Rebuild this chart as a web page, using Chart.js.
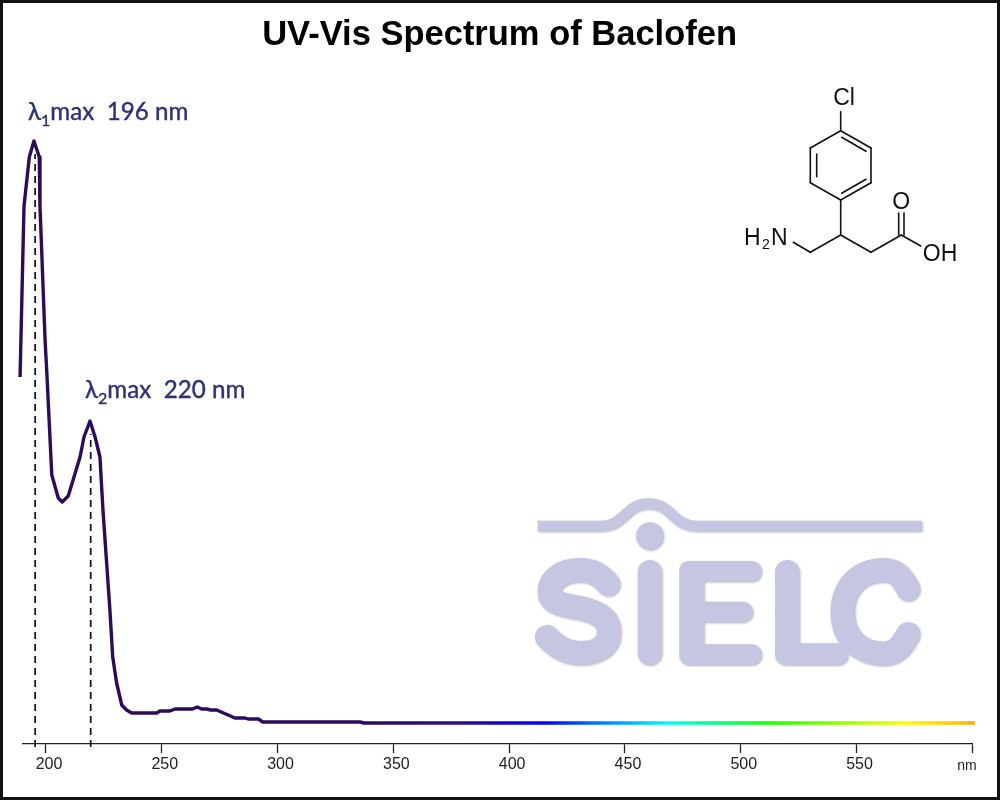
<!DOCTYPE html>
<html>
<head>
<meta charset="utf-8">
<title>UV-Vis Spectrum of Baclofen</title>
<script src="https://cdn.jsdelivr.net/npm/chart.js@4"></script>
<style>
  html, body { margin: 0; padding: 0; background: #fff; }
  canvas { display: block; }
</style>
</head>
<body>
<canvas id="myChart" width="1000" height="800"></canvas>
<script>
//-----------------------------------
// Data
//-----------------------------------
const wavelengths = [188.8, 190.5, 192.8, 194.8, 197.1, 197.4, 199.6, 200.3, 202.5, 205.3, 207.0, 209.6,
  214.7, 216.4, 219.0, 221.2, 223.3, 224.6, 227.6, 228.8, 230.5, 232.7, 234.8, 237.0, 247.8, 249.2, 253.5,
  255.7, 263.3, 265.3, 267.2, 269.4, 271.1, 273.7, 281.6, 285.9, 287.3, 291.7, 293.6, 309.7, 335.6, 337.3, 601.1];
const absorbance = [3.67, 5.38, 5.87, 6.03, 5.87, 5.38, 4.04, 3.74, 2.69, 2.46, 2.42, 2.48,
  2.87, 3.07, 3.23, 3.07, 2.87, 2.34, 1.34, 0.87, 0.61, 0.39, 0.34, 0.31, 0.31, 0.33, 0.33,
  0.35, 0.35, 0.37, 0.35, 0.35, 0.34, 0.34, 0.26, 0.26, 0.25, 0.25, 0.22, 0.22, 0.22, 0.21, 0.21];

const tickValues = [200, 250, 300, 350, 400, 450, 500, 550, 600];
const tickLabels = ["200", "250", "300", "350", "400", "450", "500", "550", ""];

// dashed drop lines under the two maxima
const peak1X = [195.3, 195.3];
const peak1Y = [-0.03, 5.9];
const peak2X = [219.3, 219.3];
const peak2Y = [-0.03, 3.1];

// spectrum colour along the wavelength axis
const gradientNm = [340, 375, 415, 440, 469, 490, 512, 571, 600];
const gradientColors = ["#2c0a5c", "#360a80", "#0000ff", "#0080ff", "#00ffff", "#00ff80", "#19ff00", "#ffff00", "#ffb000"];

//-----------------------------------
// Colour of the line, from the x scale
//-----------------------------------
function spectrumColor(context) {
  const chart = context.chart;
  if (!chart.chartArea) {
    return gradientColors[0];
  }
  const xScale = chart.scales.x;
  const x0 = xScale.getPixelForValue(188);
  const x1 = xScale.getPixelForValue(602);
  const g = chart.ctx.createLinearGradient(x0, 0, x1, 0);
  for (let i = 0; i < gradientNm.length; i++) {
    g.addColorStop((gradientNm[i] - 188) / (602 - 188), gradientColors[i]);
  }
  return g;
}

function toPoints(xs, ys) {
  return xs.map(function (x, i) { return { x: x, y: ys[i] }; });
}

//-----------------------------------
// Frame, labels, molecule and logo
//-----------------------------------
function drawLogo(ctx, color) {
  ctx.fillStyle = color;
  ctx.strokeStyle = color;
  ctx.lineJoin = "round";

  // wave over the letters
  ctx.lineCap = "butt";
  ctx.lineWidth = 10.5;
  ctx.beginPath();
  ctx.moveTo(537.7, 526);
  ctx.lineTo(600, 526);
  ctx.bezierCurveTo(625, 526, 625, 503.5, 648.3, 503.5);
  ctx.bezierCurveTo(672, 503.5, 672, 526, 697, 526);
  ctx.lineTo(921.7, 526);
  ctx.stroke();

  // dot of the I
  ctx.beginPath();
  ctx.arc(649.7, 536, 13.7, 0, Math.PI * 2);
  ctx.fill();

  ctx.lineCap = "round";
  ctx.lineWidth = 24;

  // S
  ctx.beginPath();
  ctx.moveTo(608, 584);
  ctx.bezierCurveTo(601, 575, 592, 570, 580, 570);
  ctx.bezierCurveTo(562, 570, 549.5, 579, 549.5, 592);
  ctx.bezierCurveTo(549.5, 600, 556, 603, 565, 605);
  ctx.lineTo(580, 608);
  ctx.bezierCurveTo(600, 612, 609, 620, 609, 632);
  ctx.bezierCurveTo(609, 645, 598, 653, 580, 653);
  ctx.bezierCurveTo(568, 653, 557, 648, 547, 637);
  ctx.stroke();

  // I
  ctx.beginPath();
  ctx.moveTo(649.7, 572);
  ctx.lineTo(649.7, 653);
  ctx.stroke();

  // E
  ctx.beginPath();
  ctx.roundRect(679.3, 561, 24.7, 104, 9);
  ctx.roundRect(679.3, 561, 82.4, 20.6, 10);
  ctx.roundRect(679.3, 601.7, 73.5, 20.6, 10);
  ctx.roundRect(679.3, 644.3, 82.4, 20.7, 10);
  ctx.fill();

  // L
  ctx.beginPath();
  ctx.roundRect(775, 560, 24.3, 105, 12);
  ctx.roundRect(775, 643.3, 73, 21.7, 10);
  ctx.fill();

  // C
  ctx.beginPath();
  ctx.moveTo(908, 589);
  ctx.bezierCurveTo(902, 577, 896, 570, 884, 570);
  ctx.bezierCurveTo(858, 570, 842.5, 588, 842.5, 612);
  ctx.bezierCurveTo(842.5, 636, 858, 653.5, 884, 653.5);
  ctx.bezierCurveTo(896, 653.5, 902, 645, 908, 634);
  ctx.stroke();
}

function bond(ctx, x1, y1, x2, y2) {
  ctx.beginPath();
  ctx.moveTo(x1, y1);
  ctx.lineTo(x2, y2);
  ctx.stroke();
}

function drawMolecule(ctx) {
  ctx.strokeStyle = "#111";
  ctx.lineWidth = 1.6;
  ctx.lineCap = "round";
  bond(ctx, 840.7, 111.7, 840.7, 130.7);
  // ring
  bond(ctx, 840.7, 130.7, 871, 148);
  bond(ctx, 871, 148, 871, 182.7);
  bond(ctx, 871, 182.7, 840.7, 200);
  bond(ctx, 840.7, 200, 810.3, 182.7);
  bond(ctx, 810.3, 182.7, 810.3, 148);
  bond(ctx, 810.3, 148, 840.7, 130.7);
  bond(ctx, 841.7, 137.3, 866, 151.3);
  bond(ctx, 866, 179.3, 841.7, 193.3);
  bond(ctx, 816.7, 154, 816.7, 176.7);
  // chain
  bond(ctx, 840.7, 200, 840.7, 235);
  bond(ctx, 840.7, 235, 810.3, 252.3);
  bond(ctx, 810.3, 252.3, 793.3, 242.3);
  bond(ctx, 840.7, 235, 871, 252.3);
  bond(ctx, 871, 252.3, 901.3, 235);
  bond(ctx, 898.7, 235, 898.7, 213);
  bond(ctx, 904, 235, 904, 213);
  bond(ctx, 901.3, 235, 920.7, 246);

  ctx.fillStyle = "#111";
  ctx.font = "23px 'Liberation Sans'";
  ctx.textBaseline = "alphabetic";
  ctx.textAlign = "center";
  ctx.fillText("Cl", 844, 104.5);
  ctx.fillText("O", 901.3, 208.5);
  ctx.fillText("OH", 940, 261);
  ctx.textAlign = "left";
  ctx.fillText("H", 744, 244.5);
  ctx.fillText("N", 771, 244.5);
  ctx.font = "14px 'Liberation Sans'";
  ctx.fillText("2", 762, 249);
}

function peakLabel(ctx, x, y, sub, text) {
  ctx.fillStyle = "#2f3178";
  ctx.strokeStyle = "#2f3178";
  ctx.lineWidth = 0.4;
  ctx.textAlign = "left";
  ctx.textBaseline = "alphabetic";
  ctx.font = "24.2px Lato";
  ctx.fillText("λ", x, y);
  ctx.strokeText("λ", x, y);
  let w = ctx.measureText("λ").width;
  ctx.font = "16px Lato";
  ctx.fillText(sub, x + w, y + 6);
  ctx.strokeText(sub, x + w, y + 6);
  w += ctx.measureText(sub).width;
  ctx.font = "24.2px Lato";
  ctx.fillText(text, x + w, y);
  ctx.strokeText(text, x + w, y);
}

const decorations = {
  id: "decorations",
  afterLayout: function (chart) {
    // the title sits on the page centre, not the plot centre
    chart.titleBlock.left += 2;
    chart.titleBlock.right += 2;
  },
  beforeDatasetsDraw: function (chart) {
    const ctx = chart.ctx;
    ctx.save();
    ctx.filter = "blur(1px)";
    ctx.translate(1, 1);
    drawLogo(ctx, "#b4b4bf");
    ctx.restore();
    ctx.save();
    drawLogo(ctx, "#c5c6e2");
    ctx.restore();
  },
  afterDraw: function (chart) {
    const ctx = chart.ctx;
    ctx.save();
    drawMolecule(ctx);
    peakLabel(ctx, 28, 120, "1", "max  196 nm");
    peakLabel(ctx, 85, 398, "2", "max  220 nm");

    ctx.fillStyle = "#222";
    ctx.font = "14px 'Liberation Sans'";
    ctx.textAlign = "center";
    ctx.textBaseline = "middle";
    ctx.fillText("nm", 967, 766);

    ctx.strokeStyle = "#111";
    ctx.lineWidth = 3;
    ctx.strokeRect(1.5, 1.5, 997, 797);
    ctx.restore();
  }
};

//-----------------------------------
// Chart
//-----------------------------------
const myChart = new Chart(document.getElementById("myChart"), {
  type: "line",
  data: {
    datasets: [{
      label: "Baclofen",
      data: toPoints(wavelengths, absorbance),
      borderColor: spectrumColor,
      borderWidth: 3.4,
      borderJoinStyle: "round",
      pointRadius: 0,
      tension: 0,
      clip: false
    }, {
      label: "196 nm",
      data: toPoints(peak1X, peak1Y),
      borderColor: "#111",
      borderWidth: 1.7,
      borderDash: [7, 5],
      pointRadius: 0,
      clip: false
    }, {
      label: "220 nm",
      data: toPoints(peak2X, peak2Y),
      borderColor: "#111",
      borderWidth: 1.7,
      borderDash: [7, 5],
      pointRadius: 0,
      clip: false
    }]
  },
  options: {
    responsive: false,
    animation: false,
    layout: { padding: { top: 15, left: 22.84, right: 27.7, bottom: 0 } },
    plugins: {
      legend: { display: false },
      tooltip: { enabled: false },
      title: {
        display: true,
        text: "UV-Vis Spectrum of Baclofen",
        color: "#000",
        font: { family: "'Liberation Sans'", size: 34.5, weight: "bold" },
        padding: { top: 0, bottom: 37.6 }
      }
    },
    scales: {
      x: {
        type: "linear",
        min: 190,
        max: 600,
        afterBuildTicks: function (axis) {
          axis.ticks = tickValues.map(function (v) { return { value: v }; });
        },
        afterFit: function (axis) {
          axis.height = 56;
        },
        grid: { drawOnChartArea: false, drawTicks: true, tickLength: 9, tickColor: "#222", tickWidth: 1.3 },
        border: { display: true, color: "#222", width: 1.3 },
        ticks: {
          color: "#222",
          font: { family: "'Liberation Sans'", size: 16 },
          padding: 2,
          labelOffset: 3,
          maxRotation: 0,
          autoSkip: false,
          callback: function (value) {
            return tickLabels[tickValues.indexOf(value)];
          }
        }
      },
      y: {
        display: false,
        min: 0,
        max: 6.5
      }
    }
  },
  plugins: [decorations]
});
</script>
</body>
</html>
